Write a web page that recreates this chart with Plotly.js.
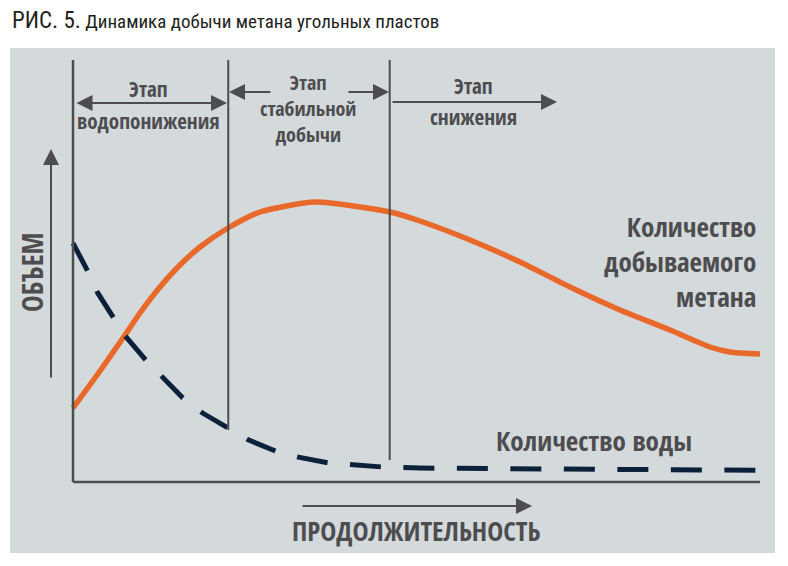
<!DOCTYPE html>
<html>
<head>
<meta charset="utf-8">
<script src="https://cdn.plot.ly/plotly-3.0.1.min.js"></script>
<style>html,body{margin:0;padding:0;background:#fff;}#chart{width:788px;height:566px;}</style>
</head>
<body>
<div id="chart"></div>
<script>
// ---- data (schematic units: duration 0..100, volume 0..100) ----
const methaneX = [0, 3.93, 7.57, 9.75, 12.66, 15.57, 18.49, 22.56, 27.22, 35.23, 46.14, 50.51, 57.79, 65.07, 72.34, 79.62, 86.90, 92.72, 95.63, 100];
const methaneY = [17.54, 26.30, 34.83, 40.05, 46.21, 51.42, 55.69, 60.19, 63.98, 66.35, 63.98, 61.85, 57.35, 52.13, 46.21, 40.76, 36.02, 31.99, 30.81, 30.33];
const waterX = [0, 2.2, 3.6, 6.0, 7.6, 10.6, 12.95, 16.0, 18.8, 22.6, 25.5, 29.5, 32.8, 37.3, 40.6, 45.1, 50.5, 62.2, 76.7, 91.3, 100];
const waterY = [56.6, 49.8, 44.8, 38.9, 34.6, 28.9, 24.9, 19.9, 16.4, 12.6, 10.0, 7.3, 5.9, 4.5, 4.0, 3.55, 3.3, 3.1, 2.95, 2.85, 2.8];
const stageX = [22.6, 46.1];
const stageBottom = [12.3, 5.2];
const stageTop = 100;
const seriesNames = ['Количество добываемого метана', 'Количество воды'];
const stageLabels = [['Этап', 'водопонижения'], ['Этап', 'стабильной', 'добычи'], ['Этап', 'снижения']];

// ---- layout helpers (pixel geometry) ----
const W = 788, H = 566;
const L = 63, Rm = 18, T = 50, B = 74;
const x0px = 73, x100px = 760, y0px = 482, y100px = 60;
const sx = (x100px - x0px) / 100, sy = (y0px - y100px) / 100;
const X = p => (p - x0px) / sx;
const Y = p => (y0px - p) / sy;
const PX = p => (p - L) / (W - L - Rm);
const PY = p => (H - B - p) / (H - T - B);

const BOLDF = '"Open Sans Condensed", "Roboto Condensed", "Liberation Sans Narrow", sans-serif';
const REGF = '"Roboto Condensed", "Liberation Sans Narrow", sans-serif';
const GREY = '#4d4d4f';
const ORANGE = '#e9692a';
const NAVY = '#0c2139';
const BG = '#d4d9dc';

const traces = [
  {x: methaneX, y: methaneY, type: 'scatter', mode: 'lines', name: seriesNames[0],
   line: {color: ORANGE, width: 5.5, shape: 'spline', smoothing: 0.6}, hoverinfo: 'skip'},
  {x: waterX, y: waterY, type: 'scatter', mode: 'lines', name: seriesNames[1],
   line: {color: NAVY, width: 5, dash: '31px,22.5px'}, hoverinfo: 'skip'}
];

const shapes = [
  {type: 'rect', xref: 'paper', yref: 'paper', x0: PX(10), x1: PX(775), y0: PY(553), y1: PY(48),
   fillcolor: BG, line: {width: 0}, layer: 'below'},
  // axes
  {type: 'line', xref: 'x', yref: 'y', x0: 0, x1: 0, y0: 0, y1: stageTop, line: {color: GREY, width: 2.5}},
  {type: 'line', xref: 'x', yref: 'y', x0: 0, x1: 100, y0: 0, y1: 0, line: {color: GREY, width: 2.5}}
];
stageX.forEach((sxv, i) => shapes.push({type: 'line', xref: 'x', yref: 'y', x0: sxv, x1: sxv,
  y0: stageBottom[i], y1: stageTop, line: {color: GREY, width: 2}}));

function txt(text, px, py, size, opts) {
  return Object.assign({text: text, xref: 'paper', yref: 'paper', x: PX(px), y: PY(py),
    xanchor: 'center', yanchor: 'middle', showarrow: false,
    font: {family: BOLDF, size: size, color: GREY, weight: 700}}, opts || {});
}
function arrow(tipx, tipy, tailx, taily, both) {
  return {text: '', xref: 'paper', yref: 'paper', x: PX(tipx), y: PY(tipy),
    ax: tailx - tipx, ay: taily - tipy, showarrow: true, arrowhead: 2, arrowsize: 1.6,
    arrowwidth: 2, arrowcolor: GREY, standoff: 0, startstandoff: 0,
    arrowside: both ? 'end+start' : 'end', startarrowhead: 2, startarrowsize: 1.6};
}

const annotations = [
  {text: '<span style="font-size:23px">РИС. 5.</span> Динамика добычи метана угольных пластов',
   xref: 'paper', yref: 'paper', x: PX(10), y: PY(20), xanchor: 'left', yanchor: 'middle', showarrow: false,
   font: {family: REGF, size: 19, color: '#231f20', weight: 400}},
  txt(stageLabels[0][0], 148, 89, 21), txt(stageLabels[0][1], 148, 121, 21),
  txt(stageLabels[1].join('<br>'), 308, 109, 20),
  txt(stageLabels[2][0], 473, 86, 21), txt(stageLabels[2][1], 473, 117, 21),
  arrow(227, 103, 75, 103, true),
  arrow(229, 92, 272, 92, false), arrow(389, 92, 347, 92, false),
  arrow(557, 102, 391, 102, false),
  arrow(51, 149, 51, 379, false),
  arrow(532, 506, 301, 506, false),
  txt('ОБЪЕМ', 32, 272, 28, {textangle: -90}),
  txt('ПРОДОЛЖИТЕЛЬНОСТЬ', 416, 530, 27),
  txt('Количество воды', 594, 440, 27),
  txt(seriesNames[0].replace(' добываемого ', '<br>добываемого<br>'), 758, 261, 27, {xanchor: 'right', align: 'right'})
];

const layout = {
  width: W, height: H, margin: {l: L, r: Rm, t: T, b: B},
  paper_bgcolor: '#ffffff', plot_bgcolor: 'rgba(0,0,0,0)', showlegend: false,
  xaxis: {range: [X(L), X(W - Rm)], visible: false, fixedrange: true},
  yaxis: {range: [Y(H - B), Y(T)], visible: false, fixedrange: true},
  shapes: shapes, annotations: annotations
};

Plotly.newPlot('chart', traces, layout, {staticPlot: true, displayModeBar: false});
</script>
</body>
</html>
